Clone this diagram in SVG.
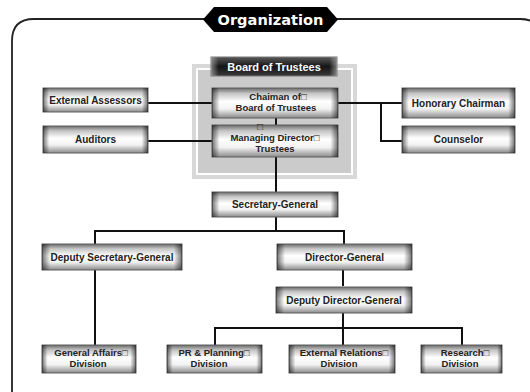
<svg xmlns="http://www.w3.org/2000/svg" width="530" height="392" viewBox="0 0 530 392">
<defs>
<linearGradient id="gv" x1="0" y1="0" x2="0" y2="1">
<stop offset="0" stop-color="#6a6a6a"/>
<stop offset="0.18" stop-color="#c4c4c4"/>
<stop offset="0.45" stop-color="#ffffff"/>
<stop offset="0.7" stop-color="#f2f2f2"/>
<stop offset="1" stop-color="#8a8a8a"/>
</linearGradient>
<linearGradient id="gh" x1="0" y1="0" x2="1" y2="0">
<stop offset="0" stop-color="#000" stop-opacity="0.55"/>
<stop offset="0.06" stop-color="#000" stop-opacity="0"/>
<stop offset="0.94" stop-color="#000" stop-opacity="0"/>
<stop offset="1" stop-color="#000" stop-opacity="0.55"/>
</linearGradient>
<linearGradient id="gd" x1="0" y1="0" x2="0" y2="1">
<stop offset="0" stop-color="#5a5a5a"/>
<stop offset="0.5" stop-color="#151515"/>
<stop offset="1" stop-color="#3a3a3a"/>
</linearGradient>
<linearGradient id="gdh" x1="0" y1="0" x2="1" y2="0">
<stop offset="0" stop-color="#aaa" stop-opacity="0.7"/>
<stop offset="0.06" stop-color="#aaa" stop-opacity="0"/>
<stop offset="0.94" stop-color="#aaa" stop-opacity="0"/>
<stop offset="1" stop-color="#aaa" stop-opacity="0.7"/>
</linearGradient>
</defs>
<style>
.b{fill:url(#gv);stroke:#5e5e5e;stroke-width:1}
.o{fill:url(#gh);stroke:none}
.t{font-family:"Liberation Sans",Arial,sans-serif;font-weight:bold;font-size:10px;fill:#222;text-anchor:middle}
.m{font-size:9.5px}
.c{fill:none;stroke:#111;stroke-width:2}
</style>
<rect width="530" height="392" fill="#fff"/>
<path d="M12,400 V41 Q12,19 34,19 H520 Q542,19 542,41 V400" fill="none" stroke="#222" stroke-width="1.8"/>
<g id="title">
<polygon points="203,19.5 214,7 327,7 338,19.5 327,32 214,32" fill="#000"/>
<text x="270.5" y="25" font-family="'DejaVu Sans',sans-serif" font-weight="bold" font-size="14" fill="#fff" text-anchor="middle" textLength="106" lengthAdjust="spacingAndGlyphs">Organization</text>
</g>
<g id="board">
<rect x="192" y="64" width="165" height="115" fill="#d8d8d8"/>
<rect x="197" y="69" width="155" height="105" fill="#cbcbcb" stroke="#fff" stroke-width="2"/>
<rect x="211" y="57" width="126" height="19" fill="url(#gd)" stroke="#777"/>
<rect x="211" y="57" width="126" height="19" fill="url(#gdh)"/>
<text x="274" y="70.5" font-family="'Liberation Sans',Arial,sans-serif" font-weight="bold" font-size="11" fill="#fff" text-anchor="middle">Board of Trustees</text>
</g>
<g id="connectors">
<path class="c" d="M276,118 V125 M276,157 V192 M148,103 H212 M148,141 H212 M338,103 H402 M381,103 V141 H402 M276,217 V231 M95,244 V231 H344 V244 M95,270 V345 M343,270 V286 M343,313 V328 M215,345 V328 H462 V345 M343,328 V345"/>
</g>
<g id="chairman">
<rect class="b" x="212" y="88" width="126" height="30"/><rect class="o" x="212" y="88" width="126" height="30"/>
<text class="t m" x="278" y="100">Chaiman of□</text>
<text class="t m" x="276" y="111">Board of Trustees</text>
</g>
<g id="managing">
<rect class="b" x="212" y="125" width="126" height="32"/><rect class="o" x="212" y="125" width="126" height="32"/>
<text class="t" x="260" y="130.3" font-size="6.5">□</text>
<text class="t m" x="275" y="140.5">Managing Director□</text>
<text class="t m" x="275" y="151.5">Trustees</text>
</g>
<g id="assessors">
<rect class="b" x="43" y="88" width="105" height="24"/><rect class="o" x="43" y="88" width="105" height="24"/>
<text class="t" x="95.5" y="103.5">External Assessors</text>
</g>
<g id="auditors">
<rect class="b" x="43" y="126" width="105" height="27"/><rect class="o" x="43" y="126" width="105" height="27"/>
<text class="t" x="95.5" y="143">Auditors</text>
</g>
<g id="honorary">
<rect class="b" x="402" y="88" width="113" height="30"/><rect class="o" x="402" y="88" width="113" height="30"/>
<text class="t" x="458.5" y="106.5">Honorary Chairman</text>
</g>
<g id="counselor">
<rect class="b" x="402" y="126" width="113" height="27"/><rect class="o" x="402" y="126" width="113" height="27"/>
<text class="t" x="458.5" y="143">Counselor</text>
</g>
<g id="secretary">
<rect class="b" x="212" y="192" width="126" height="25"/><rect class="o" x="212" y="192" width="126" height="25"/>
<text class="t" x="275" y="208">Secretary-General</text>
</g>
<g id="deputy-secretary">
<rect class="b" x="42" y="244" width="140" height="26"/><rect class="o" x="42" y="244" width="140" height="26"/>
<text class="t" x="112" y="260.5">Deputy Secretary-General</text>
</g>
<g id="director">
<rect class="b" x="277" y="244" width="135" height="26"/><rect class="o" x="277" y="244" width="135" height="26"/>
<text class="t" x="344.5" y="260.5">Director-General</text>
</g>
<g id="deputy-director">
<rect class="b" x="276" y="287" width="136" height="26"/><rect class="o" x="276" y="287" width="136" height="26"/>
<text class="t" x="344" y="304">Deputy Director-General</text>
</g>
<g id="general-affairs">
<rect class="b" x="42" y="345" width="94" height="28"/><rect class="o" x="42" y="345" width="94" height="28"/>
<text class="t m" x="91" y="356">General Affairs□</text>
<text class="t m" x="88" y="367">Division</text>
</g>
<g id="pr-planning">
<rect class="b" x="167" y="345" width="95" height="28"/><rect class="o" x="167" y="345" width="95" height="28"/>
<text class="t m" x="214" y="356">PR &amp; Planning□</text>
<text class="t m" x="209" y="367">Division</text>
</g>
<g id="external-relations">
<rect class="b" x="289" y="345" width="106" height="28"/><rect class="o" x="289" y="345" width="106" height="28"/>
<text class="t m" x="344" y="356">External Relations□</text>
<text class="t m" x="339" y="367">Division</text>
</g>
<g id="research">
<rect class="b" x="421" y="345" width="81" height="28"/><rect class="o" x="421" y="345" width="81" height="28"/>
<text class="t m" x="465" y="356">Research□</text>
<text class="t m" x="460" y="367">Division</text>
</g>
</svg>
